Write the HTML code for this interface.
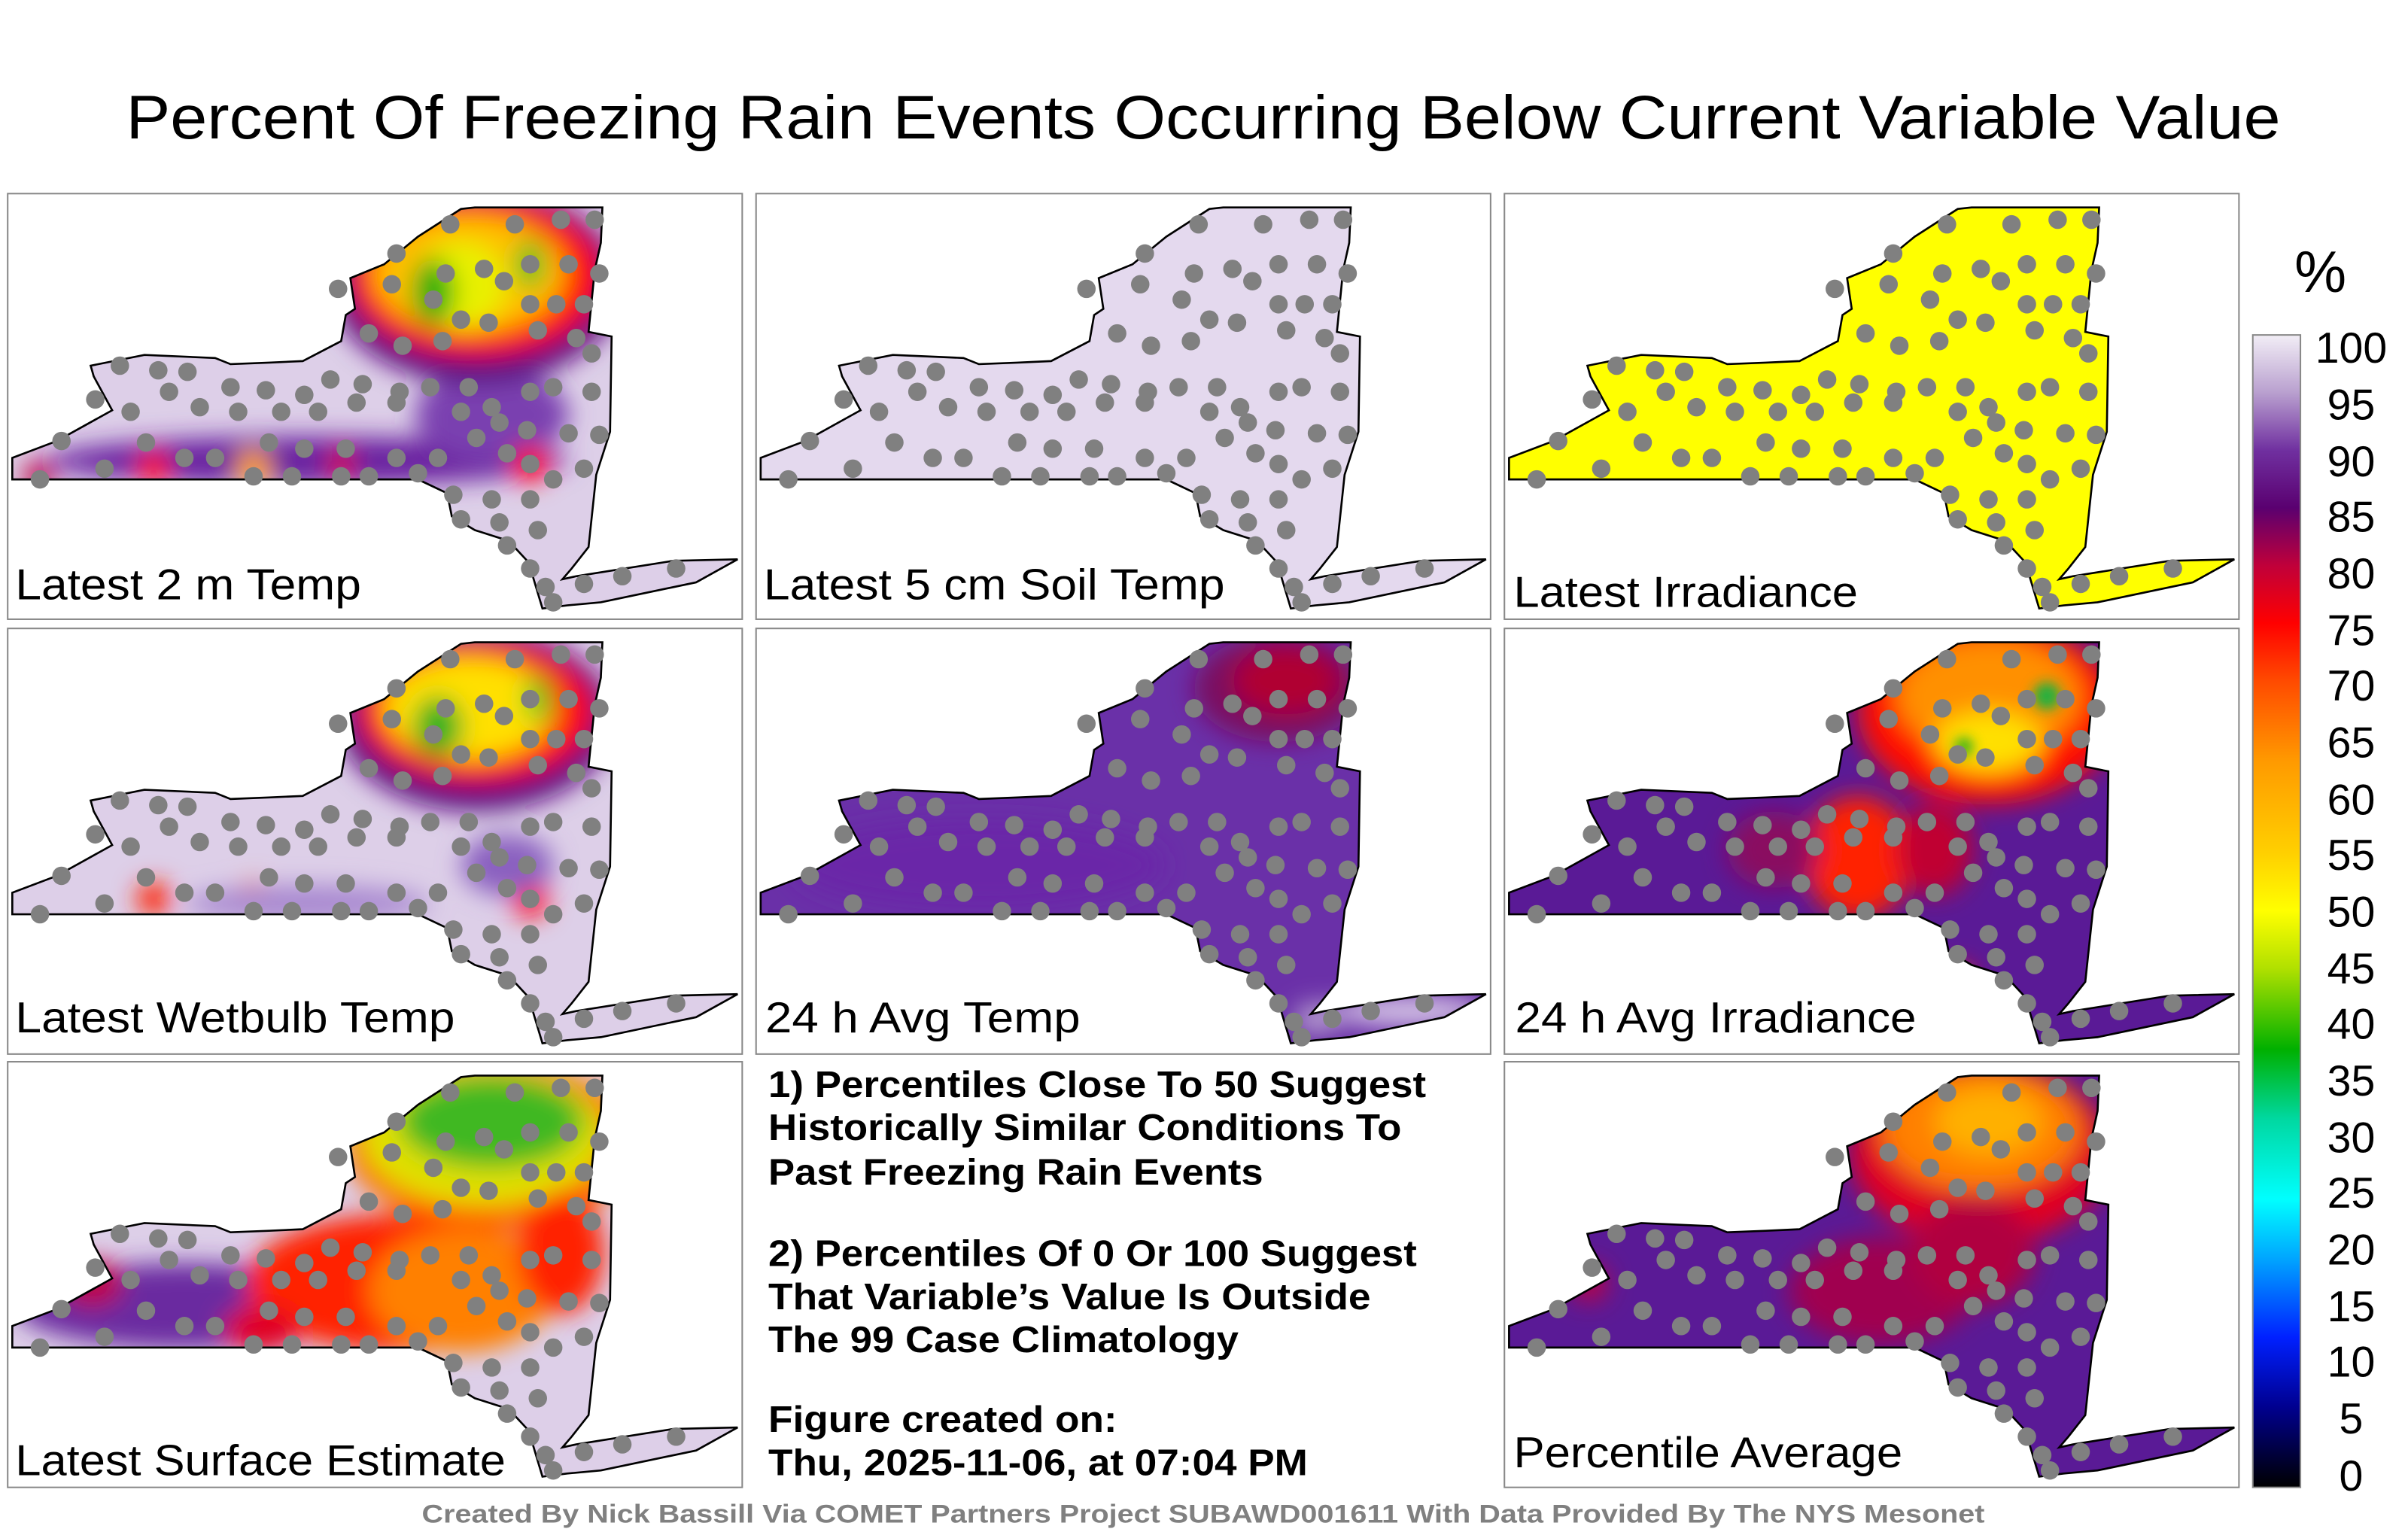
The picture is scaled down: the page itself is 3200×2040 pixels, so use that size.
<!DOCTYPE html>
<html><head><meta charset="utf-8"><style>html,body{margin:0;padding:0;background:#fff}svg{display:block}</style></head>
<body>
<svg width="3200" height="2040" viewBox="0 0 1567 999" preserveAspectRatio="none" xmlns="http://www.w3.org/2000/svg" font-family="Liberation Sans, sans-serif">
<defs>
<path id="ny" d="M8,298 L37,287 L73,267 L61,245 L59,238 L94,231 L140,233 L150,237 L175,236 L197,235 L222,222 L225,205 L231,201 L228,181 L250,172 L272,154 L300,136 L309,135 L392,135 L391,158 L387,176 L383,216 L398,219 L397,281 L388,309 L383,356 L372,370 L366,377 L375,375 L438,365 L480,364 L453,379 L391,392 L369,394 L353,396 L344,366 L331,352 L309,345 L294,336 L291,321 L272,312 L8,312 Z"/>
<clipPath id="cp"><use href="#ny"/></clipPath>
<filter id="bl" x="-50%" y="-50%" width="200%" height="200%"><feGaussianBlur stdDeviation="8"/></filter>
<filter id="bs" x="-50%" y="-50%" width="200%" height="200%"><feGaussianBlur stdDeviation="4"/></filter>
<linearGradient id="cb" x1="0" y1="0" x2="0" y2="1">
<stop offset="0" stop-color="#f2eef6"/><stop offset="0.05" stop-color="#b9a0cf"/><stop offset="0.1" stop-color="#7030a0"/>
<stop offset="0.15" stop-color="#5a0070"/><stop offset="0.2" stop-color="#c0003a"/><stop offset="0.25" stop-color="#ff0000"/>
<stop offset="0.3" stop-color="#ff4a00"/><stop offset="0.37" stop-color="#ff9a00"/><stop offset="0.45" stop-color="#ffd000"/>
<stop offset="0.5" stop-color="#ffff00"/><stop offset="0.55" stop-color="#b0e000"/><stop offset="0.62" stop-color="#00b000"/>
<stop offset="0.68" stop-color="#00d8a0"/><stop offset="0.75" stop-color="#00ffff"/><stop offset="0.8" stop-color="#00a8ff"/>
<stop offset="0.87" stop-color="#0020ff"/><stop offset="0.93" stop-color="#000090"/><stop offset="1" stop-color="#000000"/>
</linearGradient>
<g id="st" fill="#808080">
<circle cx="293" cy="146" r="6"/><circle cx="335" cy="146" r="6"/><circle cx="365" cy="143" r="6"/><circle cx="387" cy="143" r="6"/>
<circle cx="258" cy="165" r="6"/><circle cx="290" cy="178" r="6"/><circle cx="315" cy="175" r="6"/><circle cx="345" cy="172" r="6"/>
<circle cx="370" cy="172" r="6"/><circle cx="390" cy="178" r="6"/><circle cx="220" cy="188" r="6"/><circle cx="255" cy="185" r="6"/>
<circle cx="282" cy="195" r="6"/><circle cx="300" cy="208" r="6"/><circle cx="328" cy="183" r="6"/><circle cx="345" cy="198" r="6"/>
<circle cx="362" cy="198" r="6"/><circle cx="380" cy="198" r="6"/><circle cx="240" cy="217" r="6"/><circle cx="262" cy="225" r="6"/>
<circle cx="288" cy="222" r="6"/><circle cx="318" cy="210" r="6"/><circle cx="350" cy="215" r="6"/><circle cx="375" cy="220" r="6"/>
<circle cx="385" cy="230" r="6"/><circle cx="78" cy="238" r="6"/><circle cx="103" cy="241" r="6"/><circle cx="122" cy="242" r="6"/>
<circle cx="150" cy="252" r="6"/><circle cx="173" cy="254" r="6"/><circle cx="198" cy="257" r="6"/><circle cx="215" cy="247" r="6"/>
<circle cx="236" cy="250" r="6"/><circle cx="260" cy="255" r="6"/><circle cx="280" cy="252" r="6"/><circle cx="305" cy="252" r="6"/>
<circle cx="320" cy="265" r="6"/><circle cx="345" cy="255" r="6"/><circle cx="360" cy="252" r="6"/><circle cx="385" cy="255" r="6"/>
<circle cx="62" cy="260" r="6"/><circle cx="85" cy="268" r="6"/><circle cx="110" cy="255" r="6"/><circle cx="130" cy="265" r="6"/>
<circle cx="155" cy="268" r="6"/><circle cx="183" cy="268" r="6"/><circle cx="207" cy="268" r="6"/><circle cx="232" cy="262" r="6"/>
<circle cx="258" cy="262" r="6"/><circle cx="300" cy="268" r="6"/><circle cx="325" cy="275" r="6"/><circle cx="343" cy="280" r="6"/>
<circle cx="370" cy="282" r="6"/><circle cx="390" cy="283" r="6"/><circle cx="40" cy="287" r="6"/><circle cx="95" cy="288" r="6"/>
<circle cx="120" cy="298" r="6"/><circle cx="140" cy="298" r="6"/><circle cx="175" cy="288" r="6"/><circle cx="198" cy="292" r="6"/>
<circle cx="225" cy="292" r="6"/><circle cx="258" cy="298" r="6"/><circle cx="285" cy="298" r="6"/><circle cx="310" cy="285" r="6"/>
<circle cx="330" cy="295" r="6"/><circle cx="345" cy="302" r="6"/><circle cx="360" cy="312" r="6"/><circle cx="380" cy="305" r="6"/>
<circle cx="26" cy="312" r="6"/><circle cx="68" cy="305" r="6"/><circle cx="165" cy="310" r="6"/><circle cx="190" cy="310" r="6"/>
<circle cx="222" cy="310" r="6"/><circle cx="240" cy="310" r="6"/><circle cx="272" cy="308" r="6"/><circle cx="295" cy="322" r="6"/>
<circle cx="320" cy="325" r="6"/><circle cx="345" cy="325" r="6"/><circle cx="300" cy="338" r="6"/><circle cx="325" cy="340" r="6"/>
<circle cx="350" cy="345" r="6"/><circle cx="330" cy="355" r="6"/><circle cx="345" cy="370" r="6"/><circle cx="355" cy="382" r="6"/>
<circle cx="360" cy="392" r="6"/><circle cx="380" cy="380" r="6"/><circle cx="405" cy="375" r="6"/><circle cx="440" cy="370" r="6"/>
</g>
</defs>
<rect width="1567" height="999" fill="#fff"/>
<text x="783" y="90" font-size="40" text-anchor="middle" textLength="1402" lengthAdjust="spacingAndGlyphs">Percent Of Freezing Rain Events Occurring Below Current Variable Value</text>

<g fill="none" stroke="#888" stroke-width="1">
<rect x="5" y="126" width="478" height="277"/><rect x="492" y="126" width="478" height="277"/><rect x="979" y="126" width="478" height="277"/>
<rect x="5" y="409" width="478" height="277"/><rect x="492" y="409" width="478" height="277"/><rect x="979" y="409" width="478" height="277"/>
<rect x="5" y="691" width="478" height="277"/><rect x="979" y="691" width="478" height="277"/>
</g>

<!-- Panel 1 -->
<g>
<use href="#ny" fill="#ddcfe8"/>
<g clip-path="url(#cp)">
<g filter="url(#bl)">
<ellipse cx="200" cy="300" rx="170" ry="16" fill="#6a20a0"/>
<ellipse cx="320" cy="270" rx="50" ry="30" fill="#7a40b0"/>
<ellipse cx="310" cy="185" rx="95" ry="65" fill="#5a1080"/>
<ellipse cx="310" cy="180" rx="82" ry="52" fill="#ff1000"/>
<ellipse cx="305" cy="178" rx="62" ry="38" fill="#ffc000"/>
<ellipse cx="300" cy="185" rx="30" ry="28" fill="#e8f000"/>
<ellipse cx="282" cy="190" rx="14" ry="22" fill="#10b010"/>
<ellipse cx="345" cy="172" rx="9" ry="16" fill="#30c020"/>
<circle cx="345" cy="302" r="12" fill="#ff0000"/>
<circle cx="165" cy="305" r="12" fill="#ffa000"/>
<circle cx="100" cy="305" r="11" fill="#ff1000"/>
<circle cx="25" cy="310" r="10" fill="#c00040"/>
<circle cx="222" cy="302" r="9" fill="#e00020"/>
</g></g>
<use href="#ny" fill="none" stroke="#000" stroke-width="1.3"/>
<use href="#st"/>
<text x="10" y="390" font-size="28" textLength="225" lengthAdjust="spacingAndGlyphs">Latest 2 m Temp</text>
</g>

<!-- Panel 2 -->
<g transform="translate(487,0)">
<use href="#ny" fill="#e4d9ee" stroke="#000" stroke-width="1.3"/>
<use href="#st"/>
<text x="10" y="390" font-size="28" textLength="300" lengthAdjust="spacingAndGlyphs">Latest 5 cm Soil Temp</text>
</g>

<!-- Panel 3 -->
<g transform="translate(974,0)">
<use href="#ny" fill="#ffff00" stroke="#000" stroke-width="1.3"/>
<use href="#st"/>
<text x="11" y="395" font-size="28" textLength="224" lengthAdjust="spacingAndGlyphs">Latest Irradiance</text>
</g>

<!-- Panel 4 -->
<g transform="translate(0,283)">
<use href="#ny" fill="#ddcfe8"/>
<g clip-path="url(#cp)"><g filter="url(#bl)">
<ellipse cx="310" cy="185" rx="90" ry="60" fill="#5a1080"/>
<ellipse cx="310" cy="180" rx="76" ry="46" fill="#ff1000"/>
<ellipse cx="305" cy="178" rx="55" ry="33" fill="#ffe000"/>
<ellipse cx="285" cy="190" rx="16" ry="20" fill="#20b020"/>
<ellipse cx="350" cy="172" rx="9" ry="15" fill="#60c820"/>
<circle cx="345" cy="302" r="12" fill="#ff0000"/>
<circle cx="165" cy="302" r="12" fill="#ff9000"/>
<circle cx="100" cy="302" r="11" fill="#ff2000"/>
<ellipse cx="330" cy="280" rx="30" ry="20" fill="#8a60c0"/>
<ellipse cx="200" cy="305" rx="80" ry="12" fill="#a888d0"/>
</g></g>
<use href="#ny" fill="none" stroke="#000" stroke-width="1.3"/>
<use href="#st"/>
<text x="10" y="389" font-size="28" textLength="286" lengthAdjust="spacingAndGlyphs">Latest Wetbulb Temp</text>
</g>

<!-- Panel 5 -->
<g transform="translate(487,283)">
<use href="#ny" fill="#6a30a8"/>
<g clip-path="url(#cp)"><g filter="url(#bl)">
<ellipse cx="345" cy="165" rx="55" ry="35" fill="#7a1060"/>
<ellipse cx="350" cy="160" rx="35" ry="22" fill="#b00030"/>
<ellipse cx="150" cy="280" rx="120" ry="30" fill="#6a28a8"/>
<ellipse cx="430" cy="375" rx="50" ry="10" fill="#d8c8e8"/>
<ellipse cx="370" cy="380" rx="15" ry="10" fill="#b8a0d0"/>
</g></g>
<use href="#ny" fill="none" stroke="#000" stroke-width="1.3"/>
<use href="#st"/>
<text x="11" y="389" font-size="28" textLength="205" lengthAdjust="spacingAndGlyphs">24 h Avg Temp</text>
</g>

<!-- Panel 6 -->
<g transform="translate(974,283)">
<use href="#ny" fill="#5a1a96"/>
<g clip-path="url(#cp)"><g filter="url(#bl)">
<ellipse cx="320" cy="180" rx="85" ry="60" fill="#ff1000"/>
<ellipse cx="320" cy="170" rx="60" ry="38" fill="#ff9000"/>
<ellipse cx="320" cy="200" rx="35" ry="20" fill="#ffe000"/>
<ellipse cx="235" cy="275" rx="35" ry="40" fill="#ff2000"/>
<ellipse cx="285" cy="270" rx="25" ry="30" fill="#c00030"/>
<ellipse cx="180" cy="270" rx="30" ry="25" fill="#8a1060"/>
<circle cx="300" cy="355" r="10" fill="#ff2000"/>
</g>
<g filter="url(#bs)"><circle cx="358" cy="170" r="9" fill="#20b040"/><circle cx="304" cy="203" r="6" fill="#30b020"/></g>
</g>
<use href="#ny" fill="none" stroke="#000" stroke-width="1.3"/>
<use href="#st"/>
<text x="12" y="389" font-size="28" textLength="261" lengthAdjust="spacingAndGlyphs">24 h Avg Irradiance</text>
</g>

<!-- Panel 7 -->
<g transform="translate(0,565)">
<use href="#ny" fill="#ddcfe8"/>
<g clip-path="url(#cp)"><g filter="url(#bl)">
<ellipse cx="120" cy="285" rx="110" ry="28" fill="#6a2aa0"/>
<ellipse cx="260" cy="270" rx="100" ry="45" fill="#ff2000"/>
<ellipse cx="300" cy="275" rx="60" ry="40" fill="#ff8000"/>
<ellipse cx="320" cy="180" rx="95" ry="55" fill="#ff6000"/>
<ellipse cx="315" cy="175" rx="80" ry="45" fill="#e0e000"/>
<ellipse cx="320" cy="165" rx="60" ry="30" fill="#40b820"/>
<ellipse cx="365" cy="250" rx="28" ry="40" fill="#ff2000"/>
<ellipse cx="60" cy="270" rx="20" ry="15" fill="#c00040"/>
<ellipse cx="170" cy="300" rx="25" ry="15" fill="#e00020"/>
</g></g>
<use href="#ny" fill="none" stroke="#000" stroke-width="1.3"/>
<use href="#st"/>
<text x="10" y="395" font-size="28" textLength="319" lengthAdjust="spacingAndGlyphs">Latest Surface Estimate</text>
</g>

<!-- Panel 9 -->
<g transform="translate(974,565)">
<use href="#ny" fill="#5a1a96"/>
<g clip-path="url(#cp)"><g filter="url(#bl)">
<ellipse cx="315" cy="185" rx="85" ry="60" fill="#e00020"/>
<ellipse cx="315" cy="170" rx="65" ry="40" fill="#ff8000"/>
<ellipse cx="320" cy="165" rx="35" ry="22" fill="#ffb000"/>
<ellipse cx="250" cy="275" rx="60" ry="35" fill="#a00050"/>
<ellipse cx="310" cy="250" rx="40" ry="35" fill="#b00040"/>
<circle cx="60" cy="270" r="12" fill="#c00040"/>
</g></g>
<use href="#ny" fill="none" stroke="#000" stroke-width="1.3"/>
<use href="#st"/>
<text x="11" y="390" font-size="28" textLength="253" lengthAdjust="spacingAndGlyphs">Percentile Average</text>
</g>

<g font-weight="bold" font-size="24">
<text x="500" y="714" textLength="428" lengthAdjust="spacingAndGlyphs">1) Percentiles Close To 50 Suggest</text>
<text x="500" y="742" textLength="412" lengthAdjust="spacingAndGlyphs">Historically Similar Conditions To</text>
<text x="500" y="771" textLength="322" lengthAdjust="spacingAndGlyphs">Past Freezing Rain Events</text>
<text x="500" y="824" textLength="422" lengthAdjust="spacingAndGlyphs">2) Percentiles Of 0 Or 100 Suggest</text>
<text x="500" y="852" textLength="392" lengthAdjust="spacingAndGlyphs">That Variable’s Value Is Outside</text>
<text x="500" y="880" textLength="306" lengthAdjust="spacingAndGlyphs">The 99 Case Climatology</text>
<text x="500" y="932" textLength="227" lengthAdjust="spacingAndGlyphs">Figure created on:</text>
<text x="500" y="960" textLength="351" lengthAdjust="spacingAndGlyphs">Thu, 2025-11-06, at 07:04 PM</text>
</g>

<text x="783" y="991" font-size="17" font-weight="bold" fill="#808080" text-anchor="middle" textLength="1017" lengthAdjust="spacingAndGlyphs">Created By Nick Bassill Via COMET Partners Project SUBAWD001611 With Data Provided By The NYS Mesonet</text>

<rect x="1466" y="218" width="31" height="750" fill="url(#cb)" stroke="#888" stroke-width="1"/>
<text x="1510" y="190" font-size="38" text-anchor="middle">%</text>
<g font-size="28" text-anchor="middle">
<text x="1530" y="236">100</text><text x="1530" y="273">95</text><text x="1530" y="310">90</text><text x="1530" y="346">85</text>
<text x="1530" y="383">80</text><text x="1530" y="420">75</text><text x="1530" y="456">70</text><text x="1530" y="493">65</text>
<text x="1530" y="530">60</text><text x="1530" y="566">55</text><text x="1530" y="603">50</text><text x="1530" y="640">45</text>
<text x="1530" y="676">40</text><text x="1530" y="713">35</text><text x="1530" y="750">30</text><text x="1530" y="786">25</text>
<text x="1530" y="823">20</text><text x="1530" y="860">15</text><text x="1530" y="896">10</text><text x="1530" y="933">5</text>
<text x="1530" y="970">0</text>
</g>
</svg>
</body></html>
